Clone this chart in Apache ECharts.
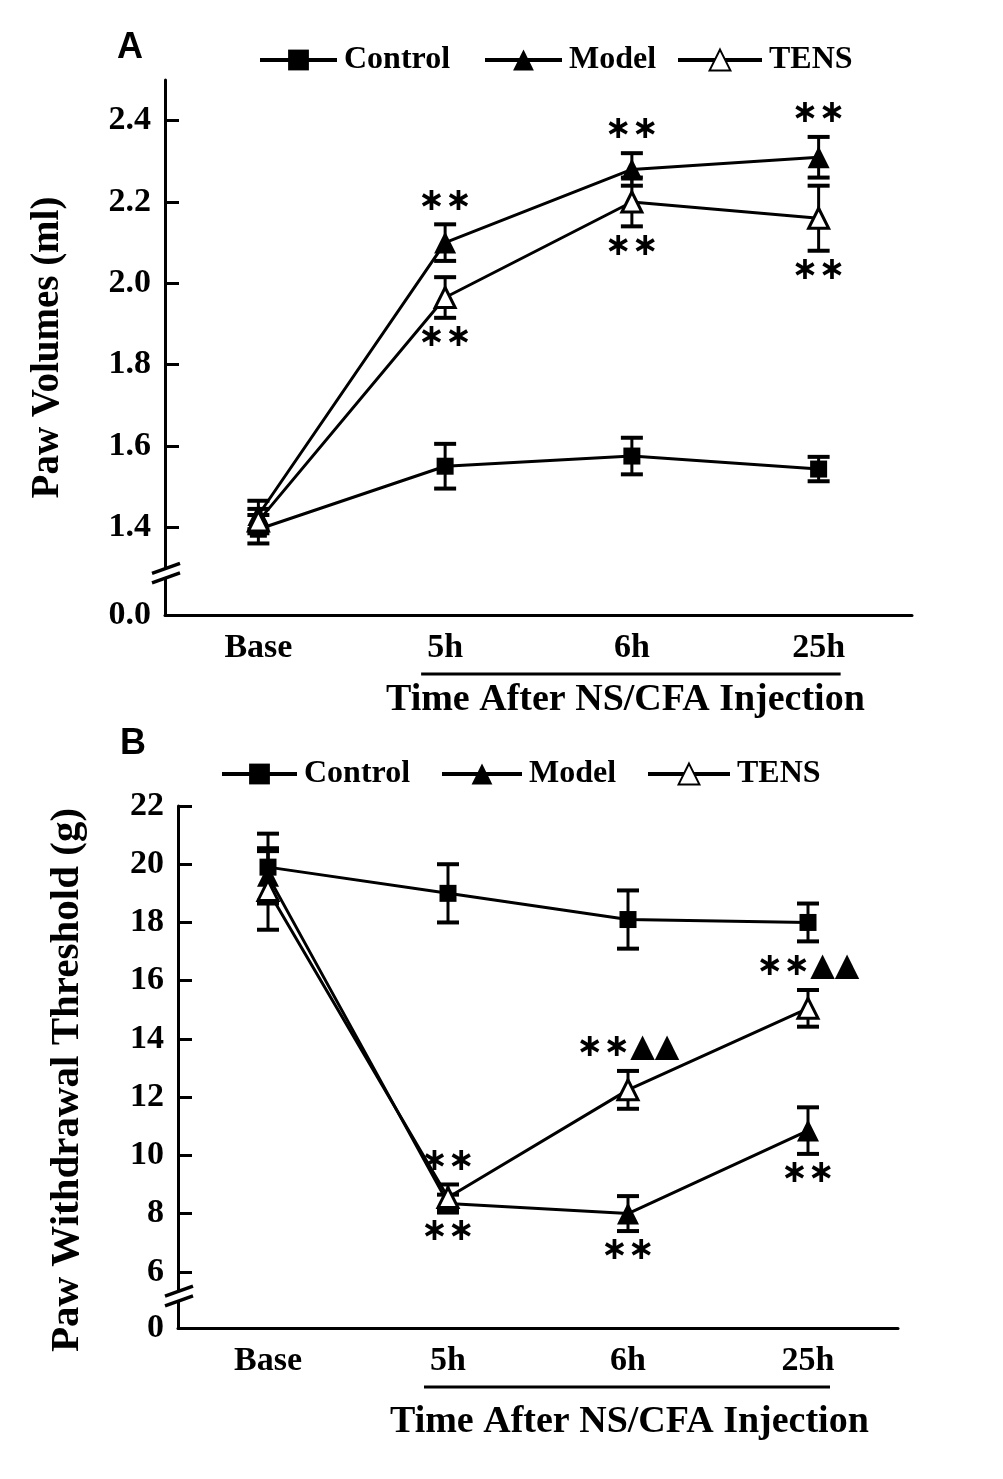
<!DOCTYPE html>
<html><head><meta charset="utf-8">
<script src="https://cdn.jsdelivr.net/npm/echarts@6/dist/echarts.min.js"></script>
<style>html,body{margin:0;padding:0;background:#fff}#c{width:1003px;height:1479px}</style>
</head><body><div id="c"></div>
<script>
// ---------- data ----------
const categories = ['Base', '5h', '6h', '25h'];
const seriesNames = ['Control', 'Model', 'TENS'];

// Panel A: Paw Volumes (ml)
const volControl = [1.395, 1.55, 1.575, 1.543];
const volControlErr = [0.035, 0.055, 0.045, 0.03];
const volModel = [1.43, 2.10, 2.28, 2.31];
const volModelErr = [0.035, 0.045, 0.04, 0.05];
const volTens = [1.415, 1.965, 2.20, 2.16];
const volTensErr = [0.03, 0.05, 0.06, 0.08];
const volModelMarks = ['', '**', '**', '**'];   // above Model
const volTensMarks = ['', '**', '**', '**'];    // below TENS

// Panel B: Paw Withdrawal Threshold (g)
const pwtControl = [19.9, 19.0, 18.1, 18.0];
const pwtControlErr = [1.15, 1.0, 1.0, 0.65];
const pwtModel = [19.6, 8.35, 8.0, 10.85];
const pwtModelErr = [0.95, 0.3, 0.6, 0.8];
const pwtTens = [19.1, 8.55, 12.25, 15.05];
const pwtTensErr = [1.35, 0.45, 0.65, 0.63];
const pwtTensMarks = ['', '**', '**▲▲', '**▲▲'];   // above TENS
const pwtModelMarks = ['', '**', '**', '**'];      // below Model

// axis ticks / broken-axis labels
const yTicksA = [1.4, 1.6, 1.8, 2.0, 2.2, 2.4];
const yMinA = 1.184, yMaxA = 2.5, yZeroLabelA = '0.0', yBreakA = 1.287;
const yTicksB = [6, 8, 10, 12, 14, 16, 18, 20, 22];
const yMinB = 4.07, yMaxB = 22, yZeroLabelB = '0', yBreakB = 5.17;

// ---------- chart ----------
const SERIF = '"Liberation Serif", "Times New Roman", serif';
const chart = echarts.init(document.getElementById('c'), null, {renderer: 'canvas'});

const symbolStyle = {
  Control: {symbol: 'rect', symbolSize: 17, itemStyle: {color: '#000', borderColor: '#000', borderWidth: 0}},
  Model: {symbol: 'triangle', symbolSize: 22, itemStyle: {color: '#000', borderColor: '#000', borderWidth: 0}},
  TENS: {symbol: 'triangle', symbolSize: 20, itemStyle: {color: '#fff', borderColor: '#000', borderWidth: 3}}
};

function lineSeries(name, idx, values) {
  return Object.assign({
    type: 'line', name, xAxisIndex: idx, yAxisIndex: idx, data: values,
    showSymbol: true, showAllSymbol: true, z: 3, silent: true,
    lineStyle: {color: '#000', width: 3},
    emphasis: {disabled: true}, animation: false
  }, symbolStyle[name]);
}

function errSeries(idx, means, errs, marks, dir) {
  return {
    type: 'custom', xAxisIndex: idx, yAxisIndex: idx, z: 2, silent: true, clip: false, animation: false,
    data: means.map((m, i) => [i, m, errs[i]]),
    renderItem: (params, api) => {
      const i = api.value(0), m = api.value(1), e = api.value(2);
      const top = api.coord([i, m + e]), bot = api.coord([i, m - e]);
      const x = top[0], hw = 11;
      const ch = [
        {type: 'line', shape: {x1: x, y1: top[1], x2: x, y2: bot[1]}, style: {stroke: '#000', lineWidth: 3}},
        {type: 'line', shape: {x1: x - hw, y1: top[1], x2: x + hw, y2: top[1]}, style: {stroke: '#000', lineWidth: 4}},
        {type: 'line', shape: {x1: x - hw, y1: bot[1], x2: x + hw, y2: bot[1]}, style: {stroke: '#000', lineWidth: 4}}
      ];
      const t = marks ? marks[params.dataIndex] : '';
      if (t) {
        ch.push({type: 'text', x: x, y: dir < 0 ? top[1] - 23 : bot[1] + 20,
          style: {text: t.replace(/\*/g, '\u2217'), font: 'bold 32px "DejaVu Sans"', fill: '#000',
            align: 'center', verticalAlign: 'middle', textAlign: 'center', textVerticalAlign: 'middle'}});
      }
      return {type: 'group', children: ch};
    }
  };
}

function decorSeries(idx, breakVal) {
  return {
    type: 'custom', xAxisIndex: idx, yAxisIndex: idx, z: 4, silent: true, clip: false, animation: false,
    data: [[0, breakVal]],
    renderItem: (params, api) => {
      const cs = params.coordSys;
      const cy = api.coord([0, api.value(1)])[1];
      const cx = cs.x + 1;
      const dx = 14, dy = 5, g = 4.8;
      const yb = cs.y + cs.height + 59;
      const x1 = api.coord([1, api.value(1)])[0] - 24;
      const x2 = api.coord([3, api.value(1)])[0] + 22;
      return {type: 'group', children: [
        {type: 'polygon', shape: {points: [[cx - dx, cy + dy - g], [cx + dx, cy - dy - g], [cx + dx, cy - dy + g], [cx - dx, cy + dy + g]]},
          style: {fill: '#fff'}},
        {type: 'line', shape: {x1: cx - dx, y1: cy + dy - g, x2: cx + dx, y2: cy - dy - g}, style: {stroke: '#000', lineWidth: 3.5}},
        {type: 'line', shape: {x1: cx - dx, y1: cy + dy + g, x2: cx + dx, y2: cy - dy + g}, style: {stroke: '#000', lineWidth: 3.5}},
        {type: 'line', shape: {x1: x1, y1: yb, x2: x2, y2: yb}, style: {stroke: '#000', lineWidth: 3}}
      ]};
    }
  };
}

function xAxis(idx) {
  return {
    type: 'category', gridIndex: idx, data: categories, boundaryGap: true,
    axisLine: {lineStyle: {color: '#000', width: 3}},
    axisTick: {inside: true, alignWithLabel: true, length: 13, lineStyle: {color: '#000', width: 3}},
    axisLabel: {color: '#000', fontFamily: SERIF, fontWeight: 'bold', fontSize: 34, margin: 16},
    splitLine: {show: false}
  };
}

function yAxis(idx, min, max, ticks, zeroLabel, name, nameSize, gap, pad, dec) {
  return {
    type: 'value', gridIndex: idx, min, max,
    name, nameLocation: 'middle', nameRotate: 90, nameGap: gap,
    nameTextStyle: {color: '#000', fontFamily: SERIF, fontWeight: 'bold', fontSize: nameSize, padding: pad},
    axisLine: {show: true, lineStyle: {color: '#000', width: 3}},
    axisTick: {show: true, inside: true, length: 14, lineStyle: {color: '#000', width: 3}, customValues: ticks},
    axisLabel: {color: '#000', fontFamily: SERIF, fontWeight: 'bold', fontSize: 34, margin: 14,
      customValues: [min].concat(ticks),
      formatter: v => (Math.abs(v - min) < 1e-6 ? zeroLabel : v.toFixed(dec))},
    splitLine: {show: false}
  };
}

function legendItem(name, left, centerY, w) {
  const h = 26;
  return {
    data: [name], orient: 'horizontal', left: left, top: centerY - h / 2,
    itemWidth: w, itemHeight: h, padding: 0, selectedMode: false,
    lineStyle: {color: '#000', width: 4},
    textStyle: {color: '#000', fontFamily: SERIF, fontWeight: 'bold', fontSize: 32, padding: [0, 0, 0, 2]}
  };
}

const textStyleTitle = (t, x, y, size) => ({
  type: 'text', left: x, top: y,
  style: {text: t, font: 'bold ' + size + 'px ' + SERIF, fill: '#000'}
});

chart.setOption({
  backgroundColor: '#fff',
  animation: false,
  grid: [
    {left: 165, top: 80, width: 747, height: 535, containLabel: false},
    {left: 178, top: 806, width: 720, height: 522, containLabel: false}
  ],
  legend: [
    legendItem('Control', 258, 57, 77), legendItem('Model', 483, 57, 77), legendItem('TENS', 676, 57, 84),
    legendItem('Control', 220, 771, 75), legendItem('Model', 440, 771, 80), legendItem('TENS', 646, 771, 82)
  ],
  xAxis: [xAxis(0), xAxis(1)],
  yAxis: [
    yAxis(0, yMinA, yMaxA, yTicksA, yZeroLabelA, 'Paw Volumes (ml)', 39, 98, [0, 0, 0, 0], 1),
    yAxis(1, yMinB, yMaxB, yTicksB, yZeroLabelB, 'Paw Withdrawal Threshold (g)', 41, 90, [0, 26, 0, 0], 0)
  ],
  graphic: [
    {type: 'text', left: 117, top: 30, style: {text: 'A', font: 'bold 36px "Liberation Sans", Arial, sans-serif', fill: '#000'}},
    {type: 'text', left: 120, top: 726, style: {text: 'B', font: 'bold 36px "Liberation Sans", Arial, sans-serif', fill: '#000'}},
    textStyleTitle('Time After NS/CFA Injection', 386, 681, 38),
    textStyleTitle('Time After NS/CFA Injection', 390, 1403, 38)
  ],
  series: [
    errSeries(0, volControl, volControlErr, null, 1),
    errSeries(0, volModel, volModelErr, volModelMarks, -1),
    errSeries(0, volTens, volTensErr, volTensMarks, 1),
    lineSeries('Control', 0, volControl),
    lineSeries('Model', 0, volModel),
    lineSeries('TENS', 0, volTens),
    decorSeries(0, yBreakA),
    errSeries(1, pwtControl, pwtControlErr, null, 1),
    errSeries(1, pwtModel, pwtModelErr, pwtModelMarks, 1),
    errSeries(1, pwtTens, pwtTensErr, pwtTensMarks, -1),
    lineSeries('Control', 1, pwtControl),
    lineSeries('Model', 1, pwtModel),
    lineSeries('TENS', 1, pwtTens),
    decorSeries(1, yBreakB)
  ]
});
</script>
</body></html>
